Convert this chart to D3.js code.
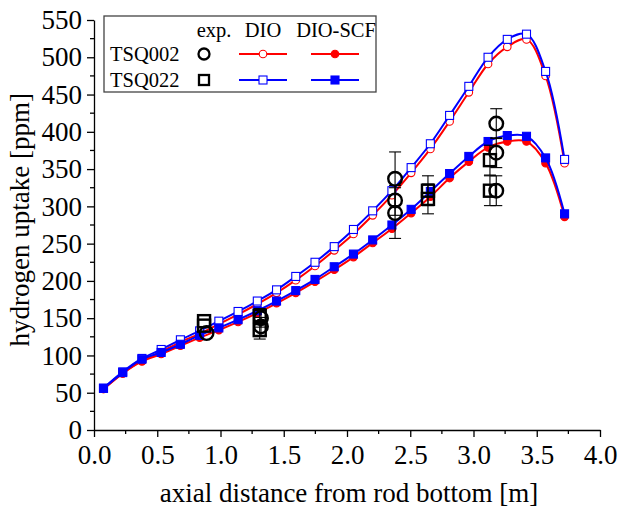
<!DOCTYPE html>
<html>
<head>
<meta charset="utf-8">
<script src="https://cdn.jsdelivr.net/npm/d3@7"></script>
<style>
  body { margin: 0; background: #fff; }
  #chart { width: 619px; height: 509px; }
  text { font-family: "Liberation Serif", "Times New Roman", serif; }
</style>
</head>
<body>
<div id="chart"></div>
<script>
// simulated axial positions [m]
const simX = [0.075, 0.227, 0.379, 0.531, 0.683, 0.835, 0.987, 1.139, 1.291, 1.443, 1.595, 1.747,
  1.899, 2.051, 2.203, 2.355, 2.507, 2.659, 2.811, 2.963, 3.115, 3.267, 3.419, 3.57, 3.72];

const dio002 = [55, 76, 93, 105, 118, 129, 142, 155, 169, 184, 201, 220, 241, 263, 288, 315, 345, 377, 414, 453, 491, 514, 524, 475, 358];
const dio022 = [56, 78, 96, 108, 121, 133, 146, 159, 173, 188, 206, 225, 246, 269, 294, 321, 352, 384, 422, 461, 500, 524, 531, 481, 363];
const scf002 = [55, 76, 92, 102, 113, 124, 134, 145, 157, 170, 184, 199, 215, 232, 251, 270, 291, 313, 338, 360, 379, 387, 387, 358, 286];
const scf022 = [56, 77, 95, 104, 115, 127, 137, 148, 160, 173, 187, 202, 219, 236, 255, 275, 296, 320, 344, 367, 387, 395, 394, 365, 290];

// experiments: [x, value, error]
const exp002 = [[0.89, 130, 0], [1.32, 150, 12], [1.32, 139, 12], [2.38, 337, 36], [2.38, 308, 20],
  [2.38, 291, 34], [3.18, 411, 20], [3.18, 372, 20], [3.18, 321, 20]];
const exp022 = [[0.87, 146, 0], [0.87, 140, 0], [1.31, 153, 10], [1.31, 134, 12], [2.64, 321, 20],
  [2.64, 310, 20], [3.13, 362, 20], [3.13, 321, 20]];

const xTicks = [0, 0.5, 1, 1.5, 2, 2.5, 3, 3.5, 4];
const yTicks = d3.range(0, 551, 50);

const width = 619, height = 509;
const margin = {top: 20, left: 94, right: 19, bottom: 79};

const svg = d3.select("#chart").append("svg")
  .attr("width", width)
  .attr("height", height);

const xScale = d3.scaleLinear().domain([0, 4]).range([margin.left, width - margin.right]);
const yScale = d3.scaleLinear().domain([0, 550]).range([height - margin.bottom, margin.top]);

// axes
const xAxis = svg.append("g")
  .attr("transform", `translate(0,${yScale(0)})`)
  .call(d3.axisBottom(xScale).tickValues(xTicks).tickFormat(d3.format(".1f")).tickSizeInner(7).tickSizeOuter(0).tickPadding(6));
xAxis.append("g").selectAll("line")
  .data(d3.range(0.25, 4, 0.5))
  .join("line")
  .attr("x1", d => xScale(d)).attr("x2", d => xScale(d))
  .attr("y1", 0).attr("y2", 4)
  .attr("stroke", "#000").attr("stroke-width", 1.3);

const yAxis = svg.append("g")
  .attr("transform", `translate(${xScale(0)},0)`)
  .call(d3.axisLeft(yScale).tickValues(yTicks).tickSizeInner(7).tickSizeOuter(0).tickPadding(5));
yAxis.append("g").selectAll("line")
  .data(d3.range(25, 550, 50))
  .join("line")
  .attr("y1", d => yScale(d)).attr("y2", d => yScale(d))
  .attr("x1", 0).attr("x2", -4)
  .attr("stroke", "#000").attr("stroke-width", 1.3);

svg.selectAll(".domain, .tick line").attr("stroke", "#000").attr("stroke-width", 1.3);
svg.selectAll(".tick text").attr("font-size", 27).attr("fill", "#000")
  .style("font-family", "'Liberation Serif', serif");
xAxis.selectAll(".tick text").attr("dy", "0.78em");

svg.append("text")
  .attr("x", (xScale(0) + xScale(4)) / 2 + 2)
  .attr("y", 502)
  .attr("text-anchor", "middle")
  .attr("font-size", 27)
  .text("axial distance from rod bottom [m]");

svg.append("text")
  .attr("transform", `translate(29,${yScale(282)}) rotate(-90)`)
  .attr("text-anchor", "middle")
  .attr("font-size", 27)
  .text("hydrogen uptake [ppm]");

// simulation curves
const line = d3.line()
  .x(d => xScale(d[0]))
  .y(d => yScale(d[1]))
  .curve(d3.curveCatmullRom);

const series = [
  {vals: dio002, color: "red", shape: "circle", filled: false},
  {vals: scf002, color: "red", shape: "circle", filled: true},
  {vals: dio022, color: "blue", shape: "square", filled: false},
  {vals: scf022, color: "blue", shape: "square", filled: true}
];

function marker(g, shape, color, filled) {
  if (shape === "circle") {
    g.append("circle").attr("r", 3.8)
      .attr("fill", filled ? color : "#fff")
      .attr("stroke", color).attr("stroke-width", 1.1);
  } else {
    g.append("rect").attr("x", -4).attr("y", -4).attr("width", 8).attr("height", 8)
      .attr("fill", filled ? color : "#fff")
      .attr("stroke", color).attr("stroke-width", 1.1);
  }
}

series.forEach(s => {
  const pts = simX.map((x, i) => [x, s.vals[i]]);
  svg.append("path")
    .datum(pts)
    .attr("d", line)
    .attr("fill", "none")
    .attr("stroke", s.color)
    .attr("stroke-width", 2);
  svg.append("g").selectAll("g")
    .data(pts)
    .join("g")
    .attr("transform", d => `translate(${xScale(d[0])},${yScale(d[1])})`)
    .each(function() { marker(d3.select(this), s.shape, s.color, s.filled); });
});

// experimental data with error bars
function drawExp(data, shape) {
  const g = svg.append("g");
  const err = data.filter(d => d[2] > 0);
  g.selectAll(".eb").data(err).join("line")
    .attr("x1", d => xScale(d[0])).attr("x2", d => xScale(d[0]))
    .attr("y1", d => yScale(d[1] - d[2])).attr("y2", d => yScale(d[1] + d[2]))
    .attr("stroke", "#000").attr("stroke-width", 1.1);
  [-1, 1].forEach(sgn => {
    g.append("g").selectAll("line").data(err).join("line")
      .attr("x1", d => xScale(d[0]) - 6).attr("x2", d => xScale(d[0]) + 6)
      .attr("y1", d => yScale(d[1] + sgn * d[2])).attr("y2", d => yScale(d[1] + sgn * d[2]))
      .attr("stroke", "#000").attr("stroke-width", 1.1);
  });
  const m = g.append("g").selectAll("g").data(data).join("g")
    .attr("transform", d => `translate(${xScale(d[0])},${yScale(d[1])})`);
  if (shape === "circle") {
    m.append("circle").attr("r", 6.8).attr("fill", "none")
      .attr("stroke", "#000").attr("stroke-width", 2.4);
  } else {
    m.append("rect").attr("x", -6).attr("y", -6).attr("width", 12).attr("height", 12)
      .attr("fill", "none").attr("stroke", "#000").attr("stroke-width", 2.4);
  }
}
drawExp(exp002, "circle");
drawExp(exp022, "square");

// legend
const lg = svg.append("g");
lg.append("rect")
  .attr("x", 104).attr("y", 16).attr("width", 272).attr("height", 76)
  .attr("fill", "#fff").attr("stroke", "#444").attr("stroke-width", 1.3);

const legendCols = ["exp.", "DIO", "DIO-SCF"];
const colX = [214, 263, 336];
lg.selectAll(".hdr").data(legendCols).join("text")
  .attr("x", (d, i) => colX[i]).attr("y", 37)
  .attr("text-anchor", "middle").attr("font-size", 20.5)
  .text(d => d);

const rowNames = ["TSQ002", "TSQ022"];
const rowY = [54, 80];
const rowColor = ["red", "blue"];
const rowShape = ["circle", "square"];
lg.selectAll(".row").data(rowNames).join("text")
  .attr("x", 110).attr("y", (d, i) => rowY[i] + 7)
  .attr("font-size", 20.5)
  .text(d => d);

rowNames.forEach((r, i) => {
  const y = rowY[i];
  const e = lg.append("g").attr("transform", `translate(204,${y})`);
  if (rowShape[i] === "circle") {
    e.append("circle").attr("r", 5.5).attr("fill", "none").attr("stroke", "#000").attr("stroke-width", 2.3);
  } else {
    e.append("rect").attr("x", -5).attr("y", -5).attr("width", 10).attr("height", 10)
      .attr("fill", "none").attr("stroke", "#000").attr("stroke-width", 2.3);
  }
  [[263, false], [335, true]].forEach(([cx, filled]) => {
    lg.append("line").attr("x1", cx - 24).attr("x2", cx + 24).attr("y1", y).attr("y2", y)
      .attr("stroke", rowColor[i]).attr("stroke-width", 2);
    const mg = lg.append("g").attr("transform", `translate(${cx},${y})`);
    marker(mg, rowShape[i], rowColor[i], filled);
  });
});
</script>
</body>
</html>
